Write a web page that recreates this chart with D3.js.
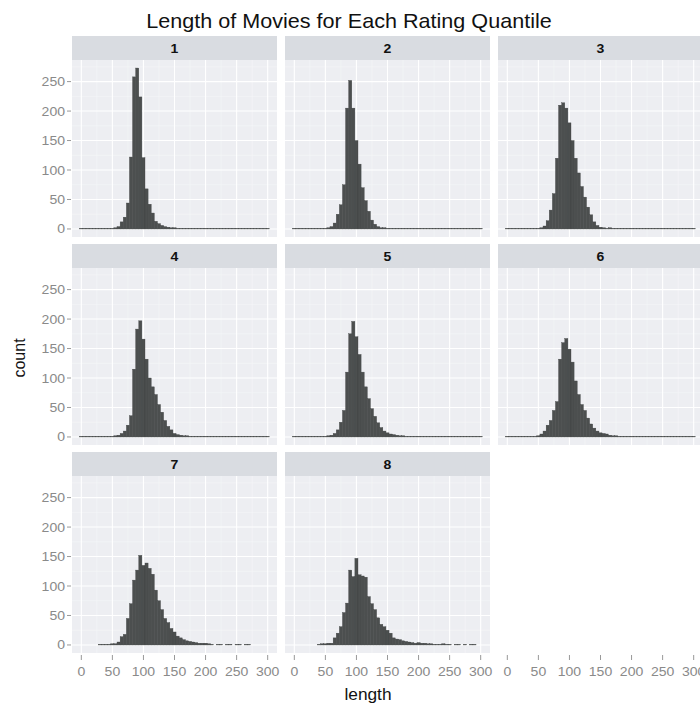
<!DOCTYPE html>
<html><head><meta charset="utf-8">
<script src="https://cdn.jsdelivr.net/npm/d3@7"></script>
<style>body{margin:0;background:#fff}</style>
</head><body><svg id="c" width="700" height="710"></svg>
<script>
// bin centres (movie length, minutes), binwidth 5
const binCenters = [0,5,10,15,20,25,30,35,40,45,50,55,60,65,70,75,80,85,90,95,
  100,105,110,115,120,125,130,135,140,145,150,155,160,165,170,175,180,185,190,195,
  200,205,210,215,220,225,230,235,240,245,250,255,260,265,270,275,280,285,290,295,300];
const quantiles = ["1","2","3","4","5","6","7","8"];
const q1 = [1,1,1,1,1,1,1,1,1,1, 1,2,4,12,20,44,122,258,273,224, 121,68,42,27,13,9,6,4,3,2,
  2,1,1,1,1,1,1,1,1,1, 1,1,1,1,1,1,1,1,1,1, 1,1,1,1,1,1,1,1,1,1, 1];
const q2 = [1,1,1,1,1,1,1,1,1,1, 1,2,4,10,25,41,75,205,252,205, 150,110,70,48,30,15,8,4,2,2,
  1,1,1,1,1,1,1,1,1,1, 1,1,1,1,1,1,1,1,1,1, 1,1,1,1,1,1,1,1,1,1, 1];
const q3 = [1,1,1,1,1,1,1,1,1,1, 1,2,5,14,32,60,120,210,214,205, 180,150,120,95,72,54,37,24,12,6,
  3,2,1,2,1,1,1,1,1,1, 1,1,1,1,1,1,1,1,1,1, 1,1,1,1,1,1,1,1,1,1, 1];
const q4 = [1,1,1,1,1,1,1,1,1,1, 1,2,3,6,10,20,36,115,183,197, 166,132,100,85,72,55,42,28,18,12,
  6,4,3,2,2,1,1,1,1,1, 1,1,1,1,1,1,1,1,1,1, 1,1,1,1,1,1,1,1,1,1, 1];
const q5 = [1,1,1,1,1,1,1,1,1,1, 1,2,3,6,12,25,45,110,175,196, 170,140,110,85,65,48,35,24,16,10,
  7,5,4,3,2,2,1,1,1,1, 1,1,1,1,1,1,1,1,1,1, 1,1,1,1,1,1,1,1,1,1, 1];
const q6 = [1,1,1,1,1,1,1,1,1,1, 2,5,10,20,28,45,60,132,160,167, 149,127,95,72,55,45,32,22,15,10,
  7,6,5,3,2,2,1,1,1,1, 1,1,1,1,1,1,1,1,1,1, 1,1,1,1,1,1,1,1,1,1, 1];
const q7 = [0,0,0,0,0,0,1,1,1,1, 2,2,5,14,18,45,70,110,127,152, 135,139,130,120,93,75,60,45,38,28,
  22,15,12,9,7,6,5,4,3,3, 3,2,1,0,1,1,0,1,1,0, 1,1,0,1,1,0,0,0,0,0, 0];
const q8 = [0,0,0,0,0,0,0,0,1,2, 2,3,3,12,20,31,55,71,127,116, 147,119,117,115,82,70,60,46,35,31,
  25,20,12,10,9,7,6,5,4,3, 4,3,3,2,2,1,1,1,2,1, 1,0,1,1,0,1,0,1,1,0, 0];
const xTicks = [0,50,100,150,200,250,300];
const yTicks = [0,50,100,150,200,250];
const xMinor = [25,75,125,175,225,275];
const yMinor = [25,75,125,175,225,275];
const series = [q1,q2,q3,q4,q5,q6,q7,q8];

const svg = d3.select("#c");
const FONT = "'Liberation Sans', Arial, Helvetica, sans-serif";
const SX = 1.08;
const panelW = 205, panelH = 177, stripH = 24, colPitch = 213, rowPitch = 208;
const left0 = 72, top0 = 36, ncol = 3, binW = 5;

svg.append("rect").attr("width",700).attr("height",710).attr("fill","#fff");

const x = d3.scaleLinear().domain([-15,315]).range([0,panelW]);
const yMax = d3.max(series.flat());
const pad = yMax*0.05;
const y = d3.scaleLinear().domain([-pad, yMax+pad]).range([panelH,0]);

function txt(g, tx, ty, s, o) {
  return g.append("text")
    .attr("transform", `translate(${tx},${ty}) scale(${SX},1)`)
    .attr("text-anchor", o.anchor || "middle")
    .attr("font-family", FONT)
    .attr("font-size", o.size)
    .attr("font-weight", o.weight || "normal")
    .attr("fill", o.fill || "#000")
    .text(s);
}

// title
txt(svg, 349, 28, "Length of Movies for Each Rating Quantile", {size: 20, fill:"#111"});

series.forEach((counts, i) => {
  const col = i % ncol, row = Math.floor(i / ncol);
  const gx = left0 + col*colPitch, gy = top0 + row*rowPitch;
  const g = svg.append("g").attr("transform", `translate(${gx},${gy})`);
  // strip
  g.append("rect").attr("width", panelW).attr("height", stripH).attr("fill", "#d9dce1");
  txt(g, panelW/2, 17, quantiles[i], {size: 13, fill:"#111", weight:"bold"});
  const p = g.append("g").attr("transform", `translate(0,${stripH})`);
  p.append("rect").attr("width", panelW).attr("height", panelH).attr("fill", "#edeef2");
  // minor grid
  p.selectAll(".mx").data(xMinor).join("line")
    .attr("x1", d=>x(d)).attr("x2", d=>x(d)).attr("y1",0).attr("y2",panelH)
    .attr("stroke","#f5f6f8").attr("stroke-width",0.6);
  p.selectAll(".my").data(yMinor).join("line")
    .attr("y1", d=>y(d)).attr("y2", d=>y(d)).attr("x1",0).attr("x2",panelW)
    .attr("stroke","#f5f6f8").attr("stroke-width",0.6);
  // major grid
  p.selectAll(".gx").data(xTicks).join("line")
    .attr("x1", d=>x(d)).attr("x2", d=>x(d)).attr("y1",0).attr("y2",panelH)
    .attr("stroke","#fff").attr("stroke-width",1.1);
  p.selectAll(".gy").data(yTicks).join("line")
    .attr("y1", d=>y(d)).attr("y2", d=>y(d)).attr("x1",0).attr("x2",panelW)
    .attr("stroke","#fff").attr("stroke-width",1.1);
  // bars
  const bins = binCenters.map((c, k) => ({c, n: counts[k]})).filter(d => d.n > 0);
  p.selectAll(".bar").data(bins).join("rect")
    .attr("x", d => x(d.c - binW/2))
    .attr("width", d => x(d.c + binW/2) - x(d.c - binW/2))
    .attr("y", d => y(d.n))
    .attr("height", d => y(0) - y(d.n))
    .attr("fill", "#4c4f4f")
    .attr("stroke", "#3d4040")
    .attr("stroke-width", 0.35);
  // y axis on first column
  if (col === 0) {
    const ya = svg.append("g").attr("transform", `translate(${left0},${gy+stripH})`);
    yTicks.forEach(t => {
      ya.append("line").attr("x1",-5).attr("x2",-1).attr("y1",y(t)).attr("y2",y(t))
        .attr("stroke","#999").attr("stroke-width",1);
      txt(ya, -7, y(t)+4.5, String(t), {size: 13, fill:"#8a8a8a", anchor:"end"});
    });
  }
});

// x axes along the bottom for each column
const bottom = top0 + 2*rowPitch + stripH + panelH;
for (let col = 0; col < ncol; col++) {
  const xa = svg.append("g").attr("transform", `translate(${left0 + col*colPitch},${bottom})`);
  xTicks.forEach(t => {
    xa.append("line").attr("x1",x(t)).attr("x2",x(t)).attr("y1",2).attr("y2",7)
      .attr("stroke","#999").attr("stroke-width",1);
    txt(xa, x(t), 23, String(t), {size: 13, fill:"#8a8a8a"});
  });
}

// axis titles
txt(svg, 368, 700, "length", {size: 16, fill:"#111"});
svg.append("text")
  .attr("transform", "translate(25,358) rotate(-90)")
  .attr("text-anchor","middle").attr("font-family",FONT).attr("font-size",16)
  .attr("fill","#111").text("count");
</script></body></html>
